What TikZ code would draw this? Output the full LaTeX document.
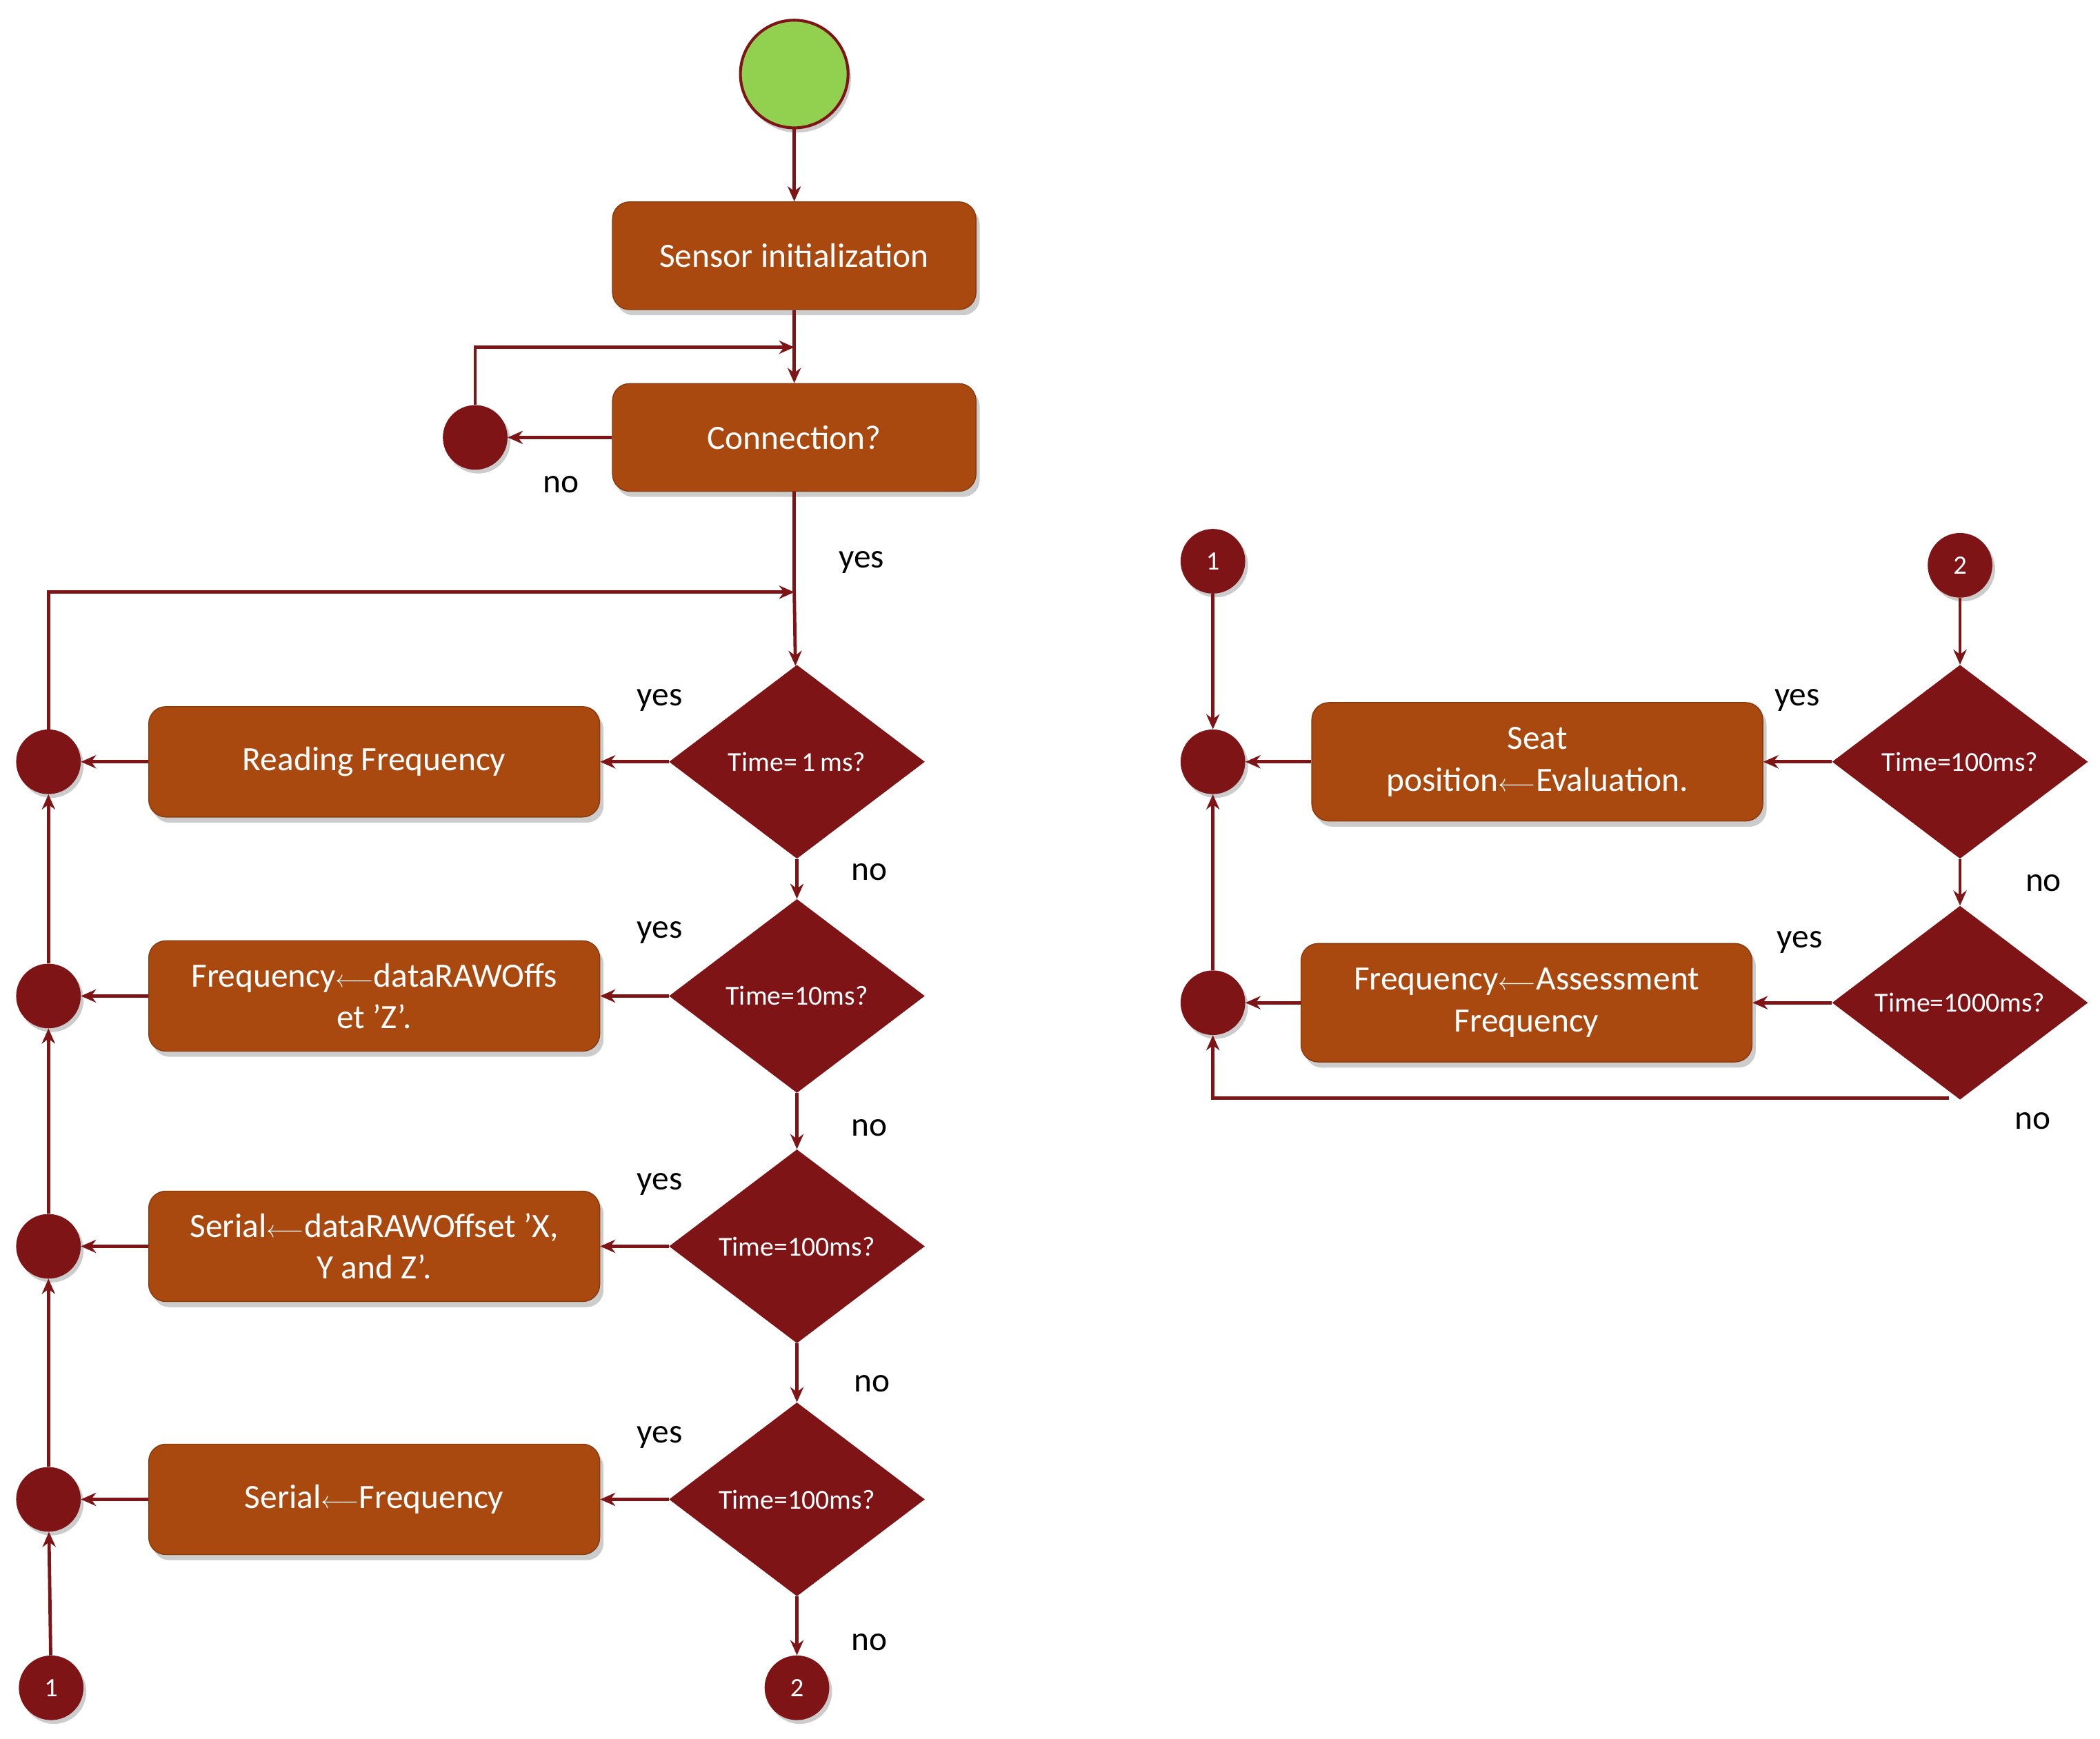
\documentclass[tikz,border=0pt]{standalone}
\usepackage{fontspec}
\setmainfont{Carlito}
\usetikzlibrary{shapes.geometric,shadows,arrows.meta}
\definecolor{dred}{HTML}{7F1416}
\definecolor{org}{HTML}{A9480F}
\definecolor{grn}{HTML}{92D050}
\begin{document}
\begin{tikzpicture}[x=0.05cm,y=-0.05cm,
 box/.style={rectangle,rounded corners=18pt,fill=org,draw=org!80!black,line width=1pt,text=white,align=center,font=\fontsize{36}{44}\selectfont,drop shadow={shadow xshift=4pt,shadow yshift=-6pt,fill=black!40}},
 dia/.style={diamond,fill=dred,text=white,inner sep=0pt,minimum width=190*0.05cm,minimum height=144*0.05cm,font=\fontsize{29}{32}\selectfont},
 dot/.style={circle,fill=dred,text=white,inner sep=0pt,minimum size=48*0.05cm,font=\fontsize{28}{30}\selectfont,drop shadow={shadow xshift=3pt,shadow yshift=-4pt,fill=black!40}},
 ar/.style={draw=dred,line width=3.5pt,-{Stealth[length=16pt,width=14pt]}},
 ln/.style={draw=dred,line width=3.5pt},
 lab/.style={font=\fontsize{36}{40}\selectfont}]
\useasboundingbox (0,0) rectangle (1560,1292);
\node[circle,fill=grn,draw=dred,line width=3pt,minimum size=80*0.05cm,drop shadow={shadow xshift=3pt,shadow yshift=-5pt,fill=black!40}] (start) at (590,55) {};
\node[box,minimum width=270*0.05cm,minimum height=80*0.05cm] (init) at (590,190) {Sensor initialization};
\node[box,minimum width=270*0.05cm,minimum height=80*0.05cm] (conn) at (590,325) {Connection?};
\node[dot] (c0) at (353,325) {};
\coordinate (j0) at (590,258);
\draw[ar] (start) -- (init);
\draw[ar] (init) -- (conn);
\draw[ar] (conn) -- (c0);
\draw[ar] (c0.north) |- (j0);
\node[lab] at (417,360) {no};
\node[lab] at (640,418) {yes};
\coordinate (j1) at (590,440);
\node[dia] (d1) at (592,566) {Time=\,1\,ms?};
\node[dia] (d2) at (592,740) {Time=10ms?};
\node[dia] (d3) at (592,926) {Time=100ms?};
\node[dia] (d4) at (592,1114) {Time=100ms?};
\foreach \n/\y/\t in {b1/566/{Reading Frequency},b2/740/{Frequency$\longleftarrow$dataRAWOffs\\et 'Z'.},b3/926/{Serial$\longleftarrow$dataRAWOffset 'X,\\Y and Z'.},b4/1114/{Serial$\longleftarrow$Frequency}}
  \node[box,minimum width=335*0.05cm,minimum height=82*0.05cm] (\n) at (278,\y) {\t};
\foreach \n/\y in {k1/566,k2/740,k3/926,k4/1114} \node[dot] (\n) at (36,\y) {};
\node[dot] (one) at (38,1254) {1};
\node[dot] (two) at (592,1254) {2};
\draw[ln] (conn) -- (j1);
\draw[ar] (j1) -- (d1);
\draw[ar] (d1) -- (d2); \draw[ar] (d2) -- (d3); \draw[ar] (d3) -- (d4); \draw[ar] (d4) -- (two);
\foreach \d/\b/\k in {d1/b1/k1,d2/b2/k2,d3/b3/k3,d4/b4/k4} {\draw[ar] (\d) -- (\b); \draw[ar] (\b) -- (\k);}
\draw[ar] (one) -- (k4); \draw[ar] (k4) -- (k3); \draw[ar] (k3) -- (k2); \draw[ar] (k2) -- (k1);
\draw[ar] (k1.north) |- (j1);
\foreach \x/\y/\t in {490/520/yes,490/693/yes,490/880/yes,490/1068/yes,646/648/no,646/838/no,648/1028/no,646/1220/no} \node[lab] at (\x,\y) {\t};
% right
\node[dot] (r1) at (901,417) {1};
\node[dot] (r2) at (1456,420) {2};
\node[dia] (e1) at (1456,566) {Time=100ms?};
\node[dia] (e2) at (1456,745) {Time=1000ms?};
\node[box,minimum width=335*0.05cm,minimum height=88*0.05cm] (f1) at (1142,566) {Seat\\position$\longleftarrow$Evaluation.};
\node[box,minimum width=335*0.05cm,minimum height=88*0.05cm] (f2) at (1134,745) {Frequency$\longleftarrow$Assessment\\Frequency};
\node[dot] (m1) at (901,566) {};
\node[dot] (m2) at (901,745) {};
\draw[ar] (r2) -- (e1); \draw[ar] (e1) -- (e2);
\draw[ar] (e1) -- (f1); \draw[ar] (f1) -- (m1);
\draw[ar] (e2) -- (f2); \draw[ar] (f2) -- (m2);
\draw[ar] (r1) -- (m1); \draw[ar] (m2) -- (m1);
\coordinate (q) at (1448,816);
\draw[ar] (q) -| (m2.south);
\foreach \x/\y/\t in {1335/520/yes,1337/700/yes,1518/656/no,1510/833/no} \node[lab] at (\x,\y) {\t};
\end{tikzpicture}
\end{document}
